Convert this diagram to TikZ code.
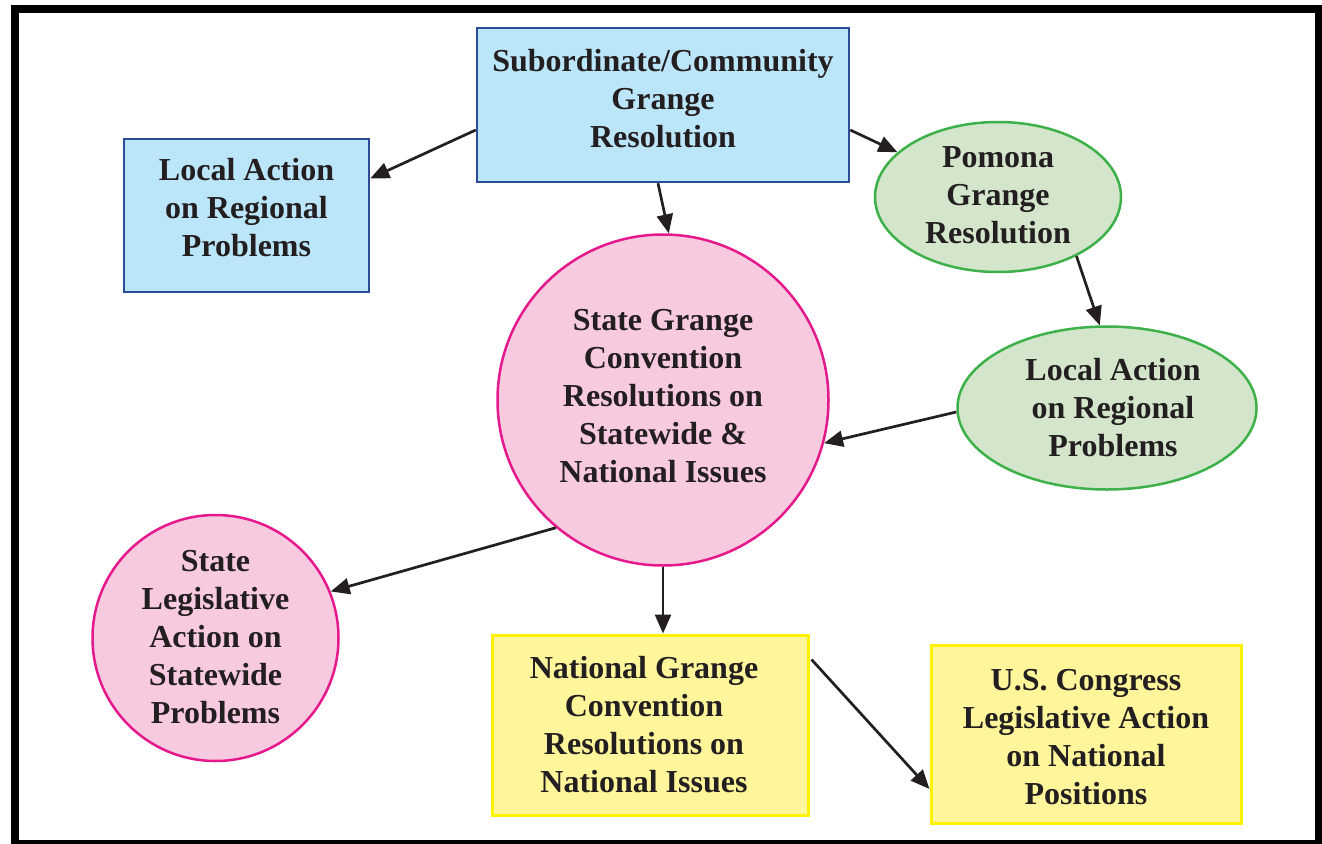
\documentclass[tikz,border=0pt]{standalone}
\usepackage{fontspec}
\setmainfont{Liberation Serif}
\usetikzlibrary{arrows.meta,shapes.geometric}
\definecolor{txt}{HTML}{231F20}
\definecolor{bluefill}{HTML}{BBE5F8}
\definecolor{blueline}{HTML}{2B4C9B}
\definecolor{greenfill}{HTML}{D3E6CB}
\definecolor{greenline}{HTML}{3DB049}
\definecolor{pinkfill}{HTML}{F7CADF}
\definecolor{pinkline}{HTML}{E6198C}
\definecolor{yelfill}{HTML}{FFF59A}
\definecolor{yelline}{HTML}{FFF200}
\tikzset{
  lbl/.style={text=txt,align=center,inner sep=0pt,
    font=\bfseries\fontsize{32}{38}\selectfont},
  bluebox/.style={lbl,draw=blueline,fill=bluefill,line width=2.5pt,rectangle},
  greenell/.style={lbl,draw=greenline,fill=greenfill,line width=2.5pt,ellipse},
  pinkcirc/.style={lbl,draw=pinkline,fill=pinkfill,line width=2.5pt,circle},
  yelbox/.style={lbl,draw=yelline,fill=yelfill,line width=3pt,rectangle},
  conn/.style={draw=txt,line width=2.7pt,-{Triangle[length=19pt,width=16pt]}}
}
\begin{document}
\begin{tikzpicture}[x=1pt,y=-1pt]
\useasboundingbox (0,0) rectangle (1322,843);
\fill[white] (0,0) rectangle (1322,843);
\draw[line width=8pt] (15,9) rectangle (1318.5,844);

\node[bluebox,minimum width=372pt,minimum height=154pt,
  label={[lbl,yshift=6pt]center:{Subordinate/Community\\Grange\\Resolution}}] (sub) at (663,105) {};
\node[bluebox,minimum width=245pt,minimum height=153pt,
  label={[lbl,yshift=8pt]center:{Local Action\\on Regional\\Problems}}] (loc) at (246.5,215.5) {};
\node[greenell,minimum width=246pt,minimum height=150pt,
  label={[lbl,yshift=2pt]center:{Pomona\\Grange\\Resolution}}] (pom) at (998,197) {};
\node[greenell,minimum width=299pt,minimum height=163pt,
  label={[lbl,xshift=6pt]center:{Local Action\\on Regional\\Problems}}] (locr) at (1107,408) {};
\node[pinkcirc,minimum size=331pt,
  label={[lbl,yshift=4pt]center:{State Grange\\Convention\\Resolutions on\\Statewide \&\\National Issues}}] (state) at (663,400) {};
\node[pinkcirc,minimum size=246pt,
  label={[lbl,yshift=1pt]center:{State\\Legislative\\Action on\\Statewide\\Problems}}] (sleg) at (215.5,638) {};
\node[yelbox,minimum width=316pt,minimum height=180pt,
  label={[lbl,xshift=-6pt]center:{National Grange\\Convention\\Resolutions on\\National Issues}}] (nat) at (650,725) {};
\node[yelbox,minimum width=310pt,minimum height=178pt,
  label={[lbl,yshift=-3pt]center:{U.S. Congress\\Legislative Action\\on National\\Positions}}] (us) at (1086,734) {};

\draw[conn] ([yshift=-25pt]sub.west) -- ([yshift=37pt]loc.east);
\draw[conn] ([yshift=-25pt]sub.east) -- (pom.156);
\draw[conn] ([xshift=-5pt]sub.south) -- (state.88);
\draw[conn] (pom.-37) -- (locr.95);
\draw[conn] ([yshift=-4pt]locr.west) -- (state.-15);
\draw[conn] (state.230) -- (sleg.22);
\draw[conn] (state.south) -- (state.south |- nat.north);
\draw[conn] ([xshift=2pt,yshift=-26pt]nat.north east) -- ([yshift=-55pt]us.west);
\end{tikzpicture}
\end{document}
